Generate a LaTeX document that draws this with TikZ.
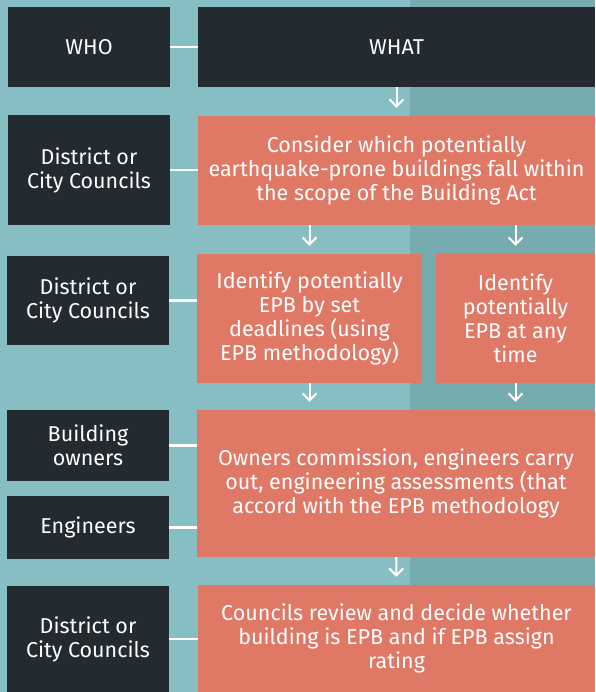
\documentclass[tikz,border=0pt]{standalone}
\usepackage{fontspec}
\setmainfont{Fira Sans}
\usetikzlibrary{arrows.meta}
\definecolor{bgteal}{HTML}{86BEC3}
\definecolor{bgdark}{HTML}{76ACAF}
\definecolor{navy}{HTML}{232A30}
\definecolor{salmon}{HTML}{E07866}
\tikzset{>={Straight Barb[length=7pt,width=14pt]},
  box/.style={inner sep=0pt, text=white, align=center, font=\fontsize{21.5}{24}\selectfont},
  who/.style={box, fill=navy},
  what/.style={box, fill=salmon},
  link/.style={draw=white, line width=2.5pt},
  flow/.style={->, draw=white, line width=2pt, shorten >=8pt}}

\begin{document}
\begin{tikzpicture}[x=1pt,y=-1pt]
    \fill[bgteal] (0,0) rectangle (595,692);
    \fill[bgdark] (410,0) rectangle (595,692);
    \useasboundingbox (0,0) rectangle (595,692);
    \node[who, minimum width=162pt, minimum height=80pt] (who) at (89,47) {WHO};
    \node[who, minimum width=397pt, minimum height=80pt] (what) at (396.5,47) {WHAT};
    \node[who, minimum width=162pt, minimum height=110pt] (dc1) at (89,170) {District or\\City Councils};
    \node[what, minimum width=397pt, minimum height=109pt] (consider) at (396.5,170.5) {Consider which potentially\\earthquake-prone buildings fall within\\the scope of the Building Act};
    \node[who, minimum width=162pt, minimum height=89pt] (dc2) at (88,300.5) {District or\\City Councils};
    \node[what, minimum width=225pt, minimum height=129pt] (setdead) at (309.5,318.5) {Identify potentially\\EPB by set\\deadlines (using\\EPB methodology)};
    \node[what, minimum width=159pt, minimum height=129pt] (anytime) at (515.5,318.5) {Identify\\potentially\\EPB at any\\time};
    \node[who, minimum width=162pt, minimum height=71pt] (owners) at (88,445.5) {Building\\owners};
    \node[who, minimum width=162pt, minimum height=63pt] (engineers) at (88,527.5) {Engineers};
    \node[what, minimum width=398pt, minimum height=147pt] (assess) at (396,483.5) {Owners commission, engineers carry\\out, engineering assessments (that\\accord with the EPB methodology};
    \node[who, minimum width=162pt, minimum height=106pt] (dc3) at (88,639) {District or\\City Councils};
    \node[what, minimum width=397pt, minimum height=107pt] (review) at (396.5,638.5) {Councils review and decide whether\\building is EPB and if EPB assign\\rating};
    \draw[link] (who.east) -- (what.west);
    \draw[link] (dc1.east) -- (dc1.east -| consider.west);
    \draw[link] (dc2.east) -- (dc2.east -| setdead.west);
    \draw[link] (owners.east) -- (owners.east -| assess.west);
    \draw[link] (engineers.east) -- (engineers.east -| assess.west);
    \draw[link] (dc3.east) -- (dc3.east -| review.west);
    \draw[flow] (what) -- (consider);
    \draw[flow] (consider.south -| setdead) -- (setdead.north);
    \draw[flow] (consider.south -| anytime) -- (anytime.north);
    \draw[flow] (setdead.south) -- (setdead.south |- assess.north);
    \draw[flow] (anytime.south) -- (anytime.south |- assess.north);
    \draw[flow] (assess) -- (review);
\end{tikzpicture}
\end{document}
